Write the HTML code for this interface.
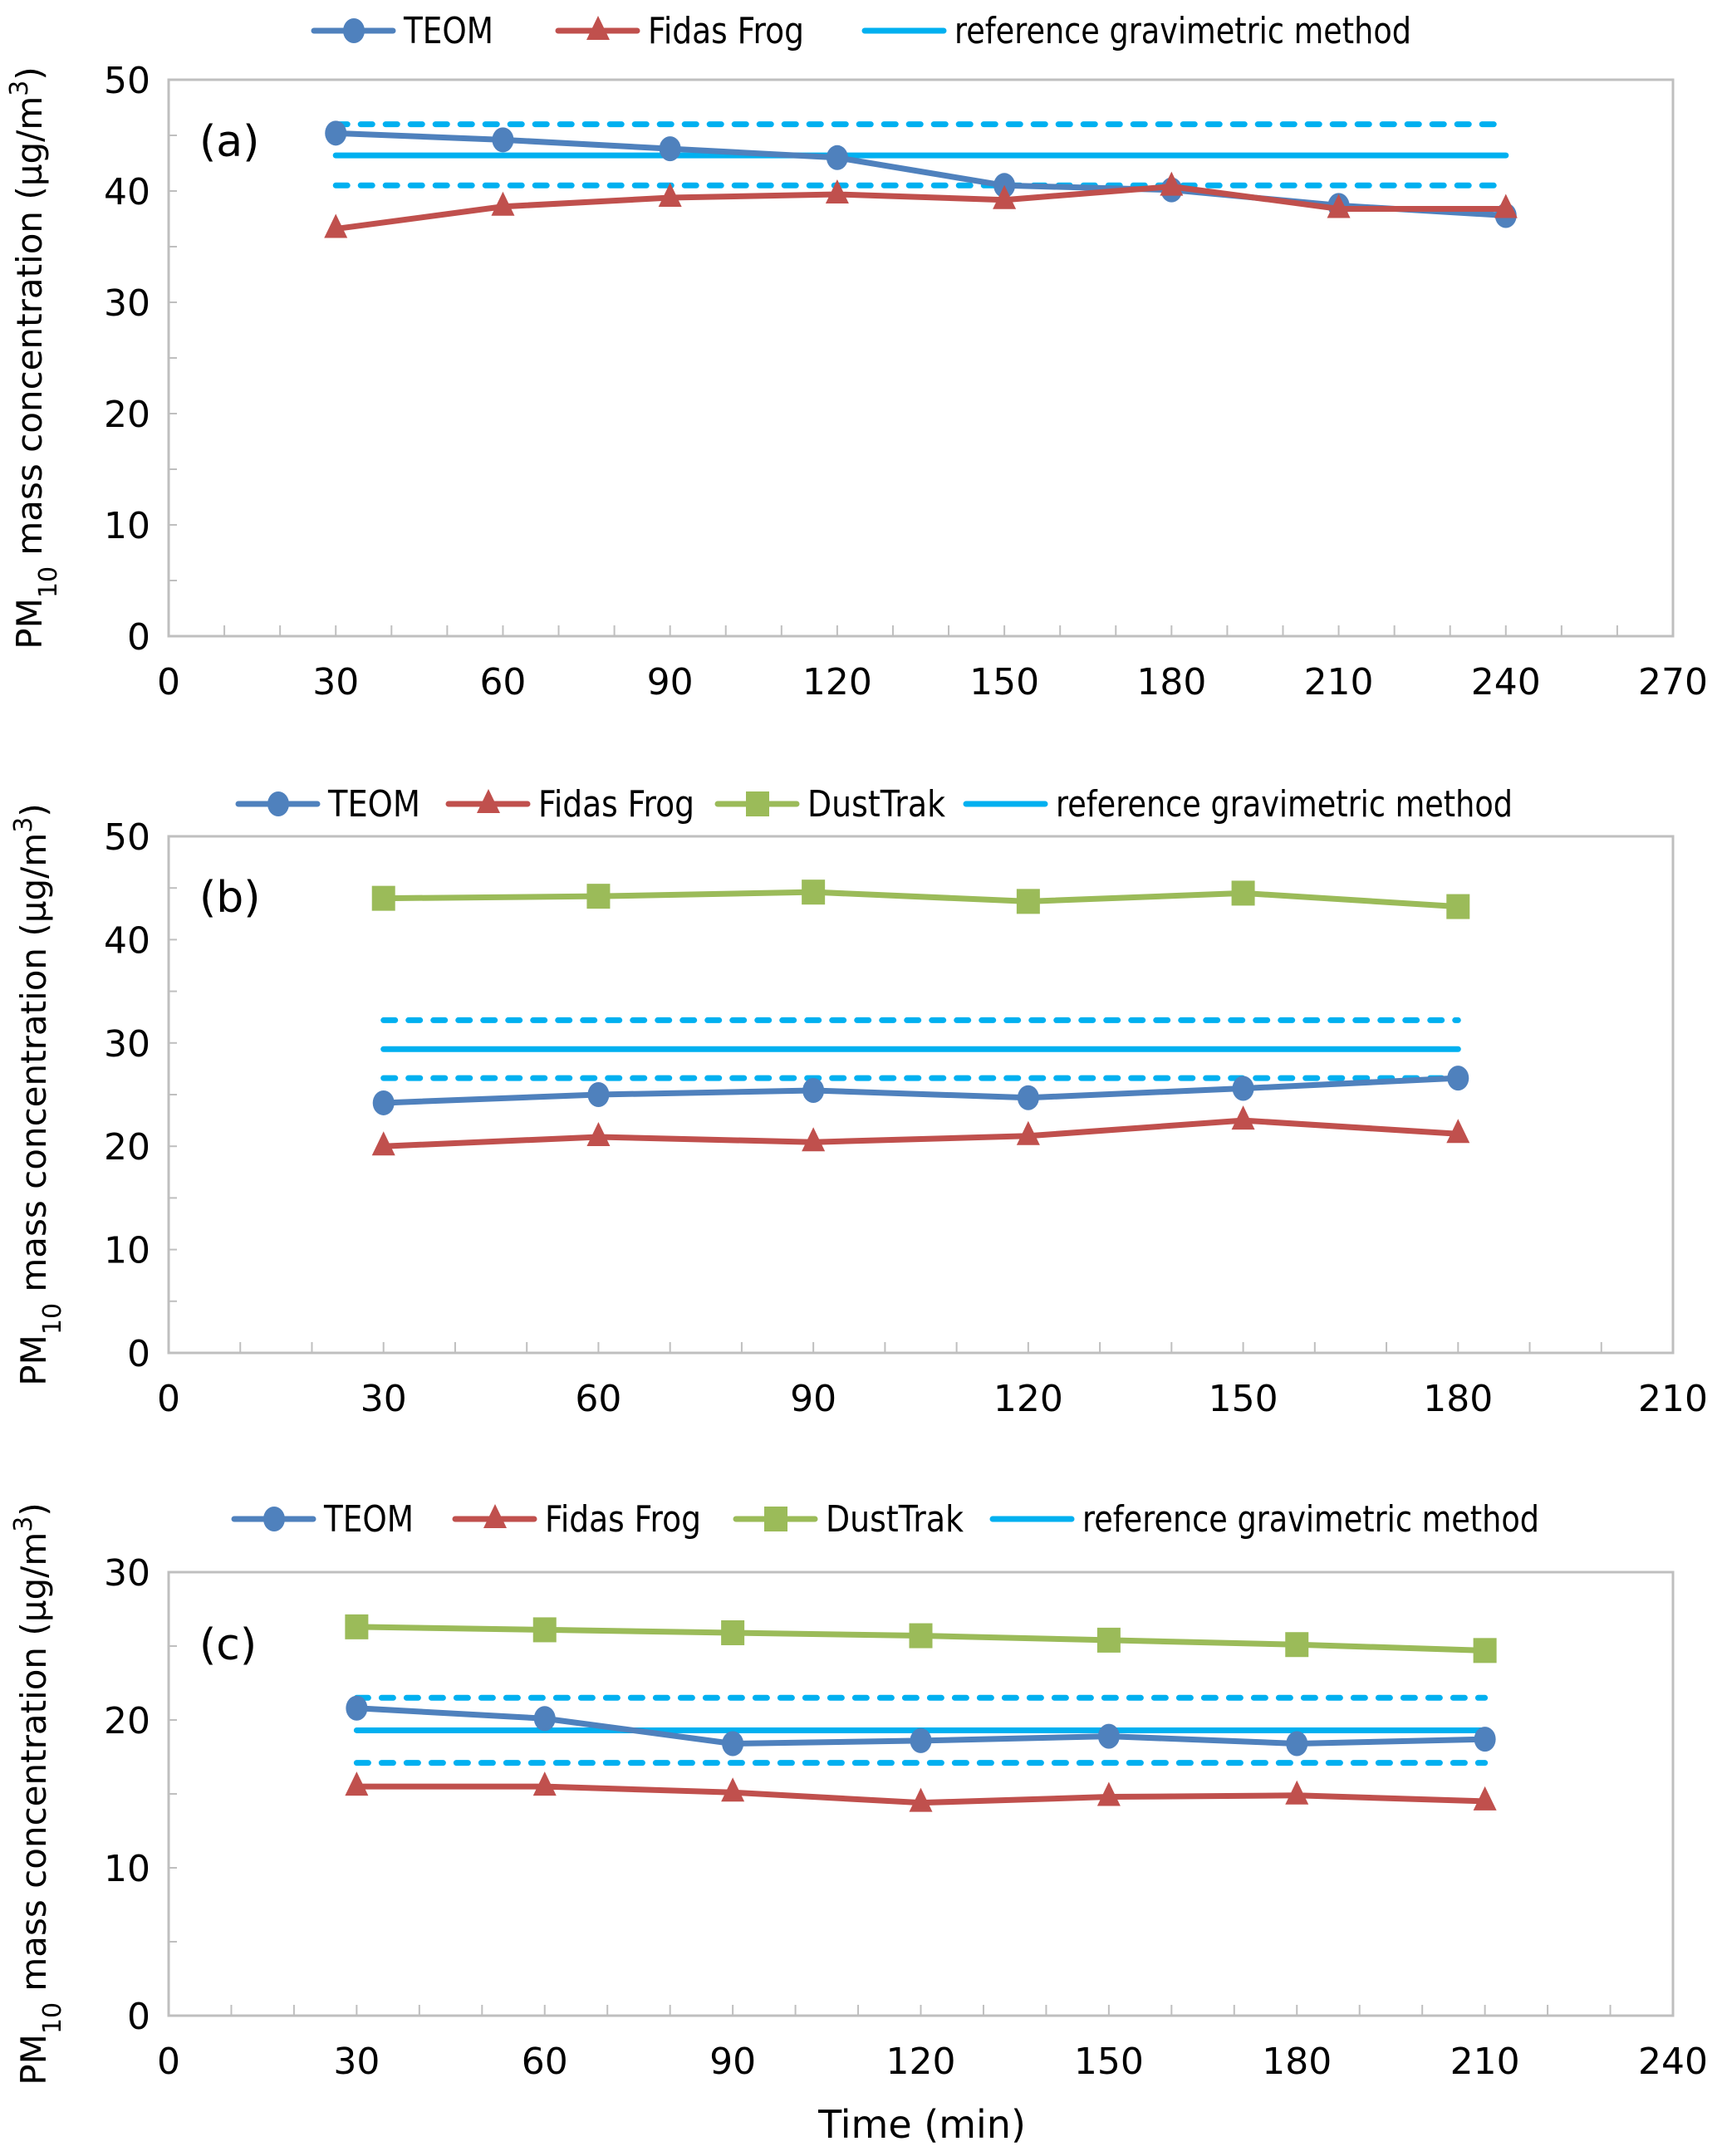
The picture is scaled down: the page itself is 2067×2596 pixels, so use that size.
<!DOCTYPE html>
<html><head><meta charset="utf-8"><style>
html,body{margin:0;padding:0;background:#fff;}
svg{display:block;font-family:"DejaVu Sans","Liberation Sans",sans-serif;}
</style></head><body>
<svg id="chart" width="2067" height="2596" viewBox="0 0 2067 2596" xmlns="http://www.w3.org/2000/svg"></svg>
<script>
// Panel (a)
const catsA = [30,60,90,120,150,180,210,240];
const teomA = [45.2,44.6,43.8,43.0,40.5,40.1,38.7,37.8];
const fidasA = [36.6,38.6,39.4,39.7,39.2,40.4,38.4,38.4];
const refA = [43.2,46.0,40.5];
// Panel (b)
const catsB = [30,60,90,120,150,180];
const teomB = [24.2,25.0,25.4,24.7,25.6,26.6];
const fidasB = [20.0,20.9,20.4,21.0,22.5,21.2];
const dustB = [44.0,44.2,44.6,43.7,44.5,43.2];
const refB = [29.4,32.2,26.6];
// Panel (c)
const catsC = [30,60,90,120,150,180,210];
const teomC = [20.8,20.1,18.4,18.6,18.9,18.4,18.7];
const fidasC = [15.5,15.5,15.1,14.4,14.8,14.9,14.5];
const dustC = [26.3,26.1,25.9,25.7,25.4,25.1,24.7];
const refC = [19.3,21.5,17.1];
const xTicksA = [0,30,60,90,120,150,180,210,240,270];
const xTicksB = [0,30,60,90,120,150,180,210];
const xTicksC = [0,30,60,90,120,150,180,210,240];
const yTicksA = [0,10,20,30,40,50];
const yTicksB = [0,10,20,30,40,50];
const yTicksC = [0,10,20,30];

const NS = "http://www.w3.org/2000/svg";
const svg = document.getElementById('chart');
function mk(tag, attrs, parent){
  const e = document.createElementNS(NS, tag);
  for (const k in attrs) e.setAttribute(k, attrs[k]);
  (parent||svg).appendChild(e);
  return e;
}
const BLUE="#4f81bd", RED="#c0504d", GREEN="#9bbb59", REF="#00b0f0";

function marker(g, type, x, y, color){
  let m;
  if (type==='circle') m = mk('ellipse',{cx:x,cy:y,rx:13,ry:15,fill:color},g);
  else if (type==='tri') m = mk('polygon',{points:`${x},${y-18} ${x+14},${y+11} ${x-14},${y+11}`,fill:color},g);
  else m = mk('rect',{x:x-14,y:y-15,width:28,height:30,fill:color},g);
  
  
  return m;
}

function panel(p){
  const g = mk('g',{});
  
  
  const X = v => p.x0 + v / p.xmax * (p.x1 - p.x0);
  const Y = v => p.y0 - v / p.ymax * (p.y0 - p.y1);
  const fr = mk('rect',{x:p.x0,y:p.y1,width:p.x1-p.x0,height:p.y0-p.y1,fill:'none',stroke:'#bfbfbf','stroke-width':3},g);
  
  
  for (let v=10; v<p.xmax; v+=10){
    const t = mk('line',{x1:X(v),x2:X(v),y1:p.y0,y2:p.y0-13,stroke:'#bfbfbf','stroke-width':2},g);
    
    
  }
  for (let v=p.ystep/2; v<p.ymax; v+=p.ystep/2){
    const t = mk('line',{x1:p.x0,x2:p.x0+10,y1:Y(v),y2:Y(v),stroke:'#bfbfbf','stroke-width':2},g);
    
    
  }
  p.xt.forEach(v=>{
    const t = mk('text',{x:X(v),y:p.y0+70,'text-anchor':'middle','font-size':44,fill:'#000'},g);
    t.textContent = v;
    
    
  });
  p.yt.forEach(v=>{
    const t = mk('text',{x:p.x0-22,y:Y(v)+16,'text-anchor':'end','font-size':44,fill:'#000'},g);
    t.textContent = v;
    
    
  });
  const lb = mk('text',{x:240,y:p.labY,'font-size':52,fill:'#000'},g);
  lb.textContent = '('+p.id+')';
  
  
  const xa = X(p.cats[0]), xb = X(p.cats[p.cats.length-1]);
  p.ref.forEach((v,i)=>{
    const l = mk('line',{x1:xa,x2:xb,y1:Y(v),y2:Y(v),stroke:REF,'stroke-width':7,'stroke-linecap':'round'},g);
    if (i>0) l.setAttribute('stroke-dasharray','14 16');
    
    
  });
  p.series.forEach(s=>{
    const pts = p.cats.map((c,i)=>X(c)+','+Y(s.vals[i])).join(' ');
    const pl = mk('polyline',{points:pts,fill:'none',stroke:s.color,'stroke-width':7,'stroke-linejoin':'round'},g);
    
    
    p.cats.forEach((c,i)=>marker(g,s.m,X(c),Y(s.vals[i]),s.color));
  });
  const yt = mk('text',{transform:`translate(${p.ytx},${(p.y0+p.y1)/2}) rotate(-90)`,'text-anchor':'middle','font-size':42,fill:'#000'},g);
  yt.innerHTML = 'PM<tspan baseline-shift="sub" font-size="30">10</tspan> mass concentration (µg/m<tspan baseline-shift="super" font-size="30">3</tspan>)';
  
  
  let lx = p.legX;
  p.legend.forEach(e=>{
    const lg = mk('g',{},g);
    
    
    mk('line',{x1:lx,x2:lx+95,y1:p.legY,y2:p.legY,stroke:e.color,'stroke-width':7,'stroke-linecap':'round'},lg);
    if (e.m) marker(lg,e.m,lx+48,p.legY,e.color);
    const t = mk('text',{x:lx+108,y:p.legY+15,'font-size':44,fill:'#000',textLength:e.w,lengthAdjust:'spacingAndGlyphs'},lg);
    t.textContent = e.label;
    lx += 108 + e.w + (e.gap||0);
  });
}

const legT = {label:'TEOM',color:BLUE,m:'circle',w:108};
const legF = {label:'Fidas Frog',color:RED,m:'tri',w:188};
const legD = {label:'DustTrak',color:GREEN,m:'sq',w:166};
const legR = {label:'reference gravimetric method',color:REF,m:null,w:550,gap:0};

panel({id:'a',x0:203,x1:2014,y0:766,y1:96,xmax:270,ymax:50,ystep:10,xt:xTicksA,yt:yTicksA,
  cats:catsA,ref:refA,labY:188,ytx:50,legX:378,legY:37,
  series:[{name:'teom',vals:teomA,color:BLUE,m:'circle'},{name:'fidas-frog',vals:fidasA,color:RED,m:'tri'}],
  legend:[Object.assign({},legT,{gap:78}),Object.assign({},legF,{gap:73}),legR]});
panel({id:'b',x0:203,x1:2014,y0:1629,y1:1007,xmax:210,ymax:50,ystep:10,xt:xTicksB,yt:yTicksB,
  cats:catsB,ref:refB,labY:1098,ytx:55,legX:287,legY:968,
  series:[{name:'teom',vals:teomB,color:BLUE,m:'circle'},{name:'fidas-frog',vals:fidasB,color:RED,m:'tri'},{name:'dusttrak',vals:dustB,color:GREEN,m:'sq'}],
  legend:[Object.assign({},legT,{w:111,gap:34}),Object.assign({},legF,{gap:28}),Object.assign({},legD,{gap:25}),legR]});
panel({id:'c',x0:203,x1:2014,y0:2427,y1:1893,xmax:240,ymax:30,ystep:10,xt:xTicksC,yt:yTicksC,
  cats:catsC,ref:refC,labY:1998,ytx:55,legX:282,legY:1829,
  series:[{name:'teom',vals:teomC,color:BLUE,m:'circle'},{name:'fidas-frog',vals:fidasC,color:RED,m:'tri'},{name:'dusttrak',vals:dustC,color:GREEN,m:'sq'}],
  legend:[Object.assign({},legT,{gap:50}),Object.assign({},legF,{gap:42}),Object.assign({},legD,{gap:35}),legR]});

const xt = mk('text',{x:1110,y:2574,'text-anchor':'middle','font-size':46,fill:'#000'});
xt.textContent = 'Time (min)';


</script>
</body></html>
